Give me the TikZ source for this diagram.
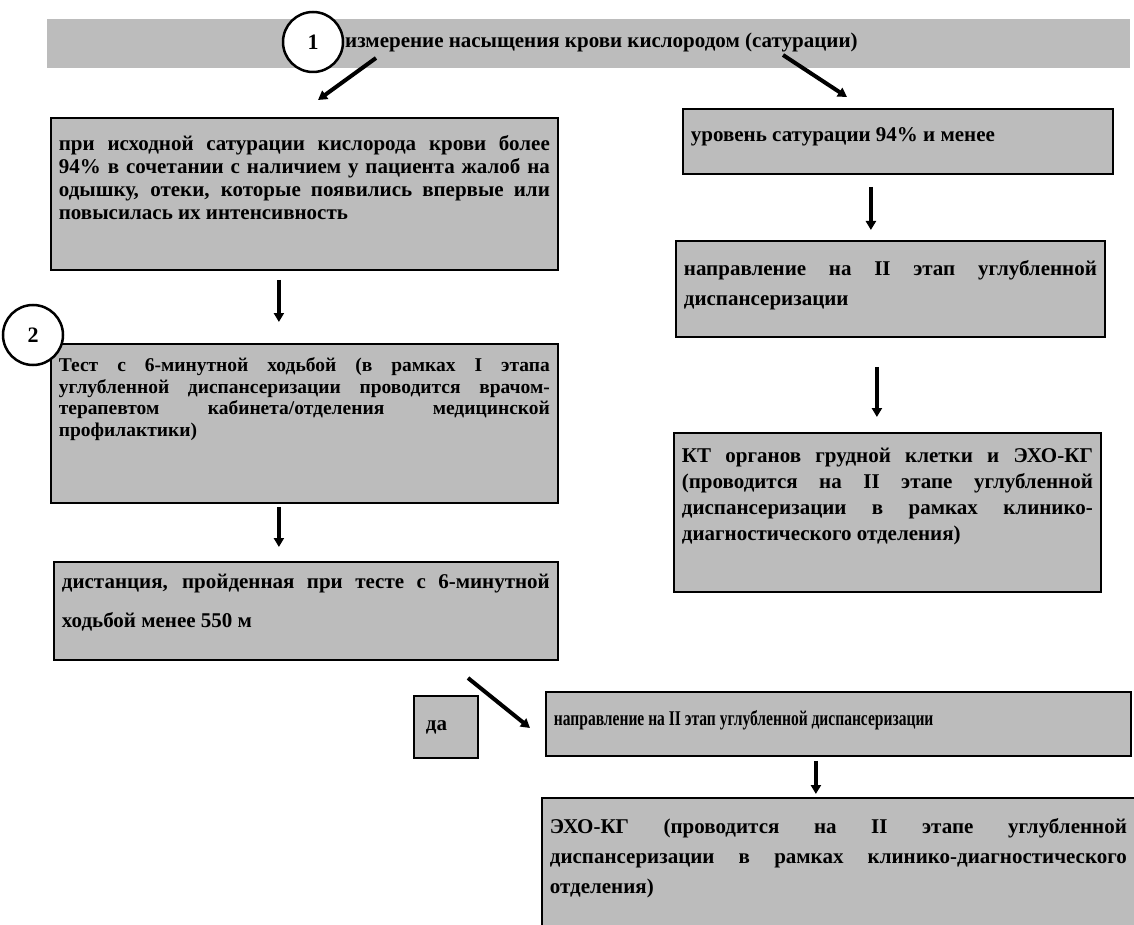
\documentclass[tikz,border=0pt]{standalone}
\usepackage{fontspec}
\setmainfont{Liberation Serif}
\usepackage{graphicx}
\usetikzlibrary{arrows.meta}
\definecolor{boxgray}{RGB}{188,188,188}
\newcommand{\jline}[1]{\hbox to\hsize{#1}}
\newcommand{\lline}[1]{\hbox to\hsize{#1\hfil}}
\newcommand{\boxtext}[5]{\parbox[c][#2][t]{#1}{\fontsize{#3}{#4}\selectfont\hbadness=10000 #5}}
\tikzset{
  flowbox/.style={draw=black, line width=1.8pt, fill=boxgray, anchor=north west, inner xsep=8pt, font=\bfseries},
  arr/.style={line width=4pt, -{Triangle[length=9pt,width=10pt]}},
  num/.style={circle, draw=black, line width=2.5pt, fill=white, minimum size=60pt, inner sep=0pt, font=\bfseries\fontsize{22}{24}\selectfont},
  band/.style={fill=boxgray, anchor=north west, inner sep=0pt, minimum width=1083pt, minimum height=49pt},
  titletext/.style={anchor=west, inner sep=0pt, font=\bfseries\fontsize{21}{24}\selectfont}
}
\begin{document}
\begin{tikzpicture}[x=1pt,y=-1pt]
\path[use as bounding box] (0,0) rectangle (1134,925);

\node[band] (band) at (47,19) {};
\node[titletext] (title) at (345,42) {измерение насыщения крови кислородом (сатурации)};
\node[num] (c1) at (313,42) {1};

\node[flowbox, inner ysep=18pt] (L1) at (50,117) {\boxtext{491pt}{116pt}{21}{23}{%
\jline{при исходной сатурации кислорода крови более}%
\jline{94\% в сочетании с наличием у пациента жалоб на}%
\jline{одышку, отеки, которые появились впервые или}%
\lline{повысилась их интенсивность}}};

\node[flowbox, inner ysep=14pt] (L2) at (50,343) {\boxtext{491pt}{131pt}{19.5}{21.5}{%
\jline{Тест с 6-минутной ходьбой (в рамках I этапа}%
\jline{углубленной диспансеризации проводится врачом-}%
\jline{терапевтом кабинета/отделения медицинской}%
\lline{профилактики)}}};
\node[num] (c2) at (33,335) {2};

\node[flowbox, inner ysep=12pt] (L3) at (53,561) {\boxtext{488pt}{74pt}{21}{39}{%
\jline{дистанция, пройденная при тесте с 6-минутной}%
\lline{ходьбой менее 550 м}}};

\node[flowbox, inner ysep=19pt] (R1) at (682,108) {\boxtext{414pt}{27pt}{21}{23}{%
\lline{уровень сатурации 94\% и менее}}};

\node[flowbox, inner ysep=20pt] (R2) at (675,240) {\boxtext{413pt}{56pt}{21}{30}{%
\jline{направление на II этап углубленной}%
\lline{диспансеризации}}};

\node[flowbox, inner ysep=15pt] (R3) at (673,432) {\boxtext{411pt}{129pt}{21}{26}{%
\jline{КТ органов грудной клетки и ЭХО-КГ}%
\jline{(проводится на II этапе углубленной}%
\jline{диспансеризации в рамках клинико-}%
\lline{диагностического отделения)}}};

\node[flowbox, inner xsep=12pt, inner ysep=25pt] (da) at (413,695) {\boxtext{40pt}{12pt}{21}{23}{\lline{да}}};

\node[flowbox, inner ysep=19pt] (N) at (545,691) {\boxtext{569pt}{26pt}{21}{23}{%
\lline{\scalebox{0.74}[1]{направление на II этап углубленной диспансеризации}}}};

\node[flowbox, inner ysep=21pt] (E) at (541,797) {\boxtext{577pt}{86pt}{21}{30}{%
\jline{ЭХО-КГ (проводится на II этапе углубленной}%
\jline{диспансеризации в рамках клинико-диагностического}%
\lline{отделения)}}};

\coordinate (t1s) at (376,58);
\coordinate (t1e) at (318,100);
\coordinate (t2s) at (783,55);
\coordinate (t2e) at (847,97);
\coordinate (ds) at (468,678);
\coordinate (de) at (530,728);

\draw[arr] (t1s) -- (t1e);
\draw[arr] (t2s) -- (t2e);
\draw[arr] (ds) -- (de);
\draw[arr, shorten <=9pt, shorten >=21pt] ([xshift=-25.5pt]L1.south) -- ([xshift=-25.5pt]L2.north);
\draw[arr, shorten <=3pt, shorten >=14pt] ([xshift=-25.5pt]L2.south) -- ([xshift=-27pt]L3.north);
\draw[arr, shorten <=12pt, shorten >=10pt] ([xshift=-27pt]R1.south) -- ([xshift=-19.5pt]R2.north);
\draw[arr, shorten <=29pt, shorten >=15pt] ([xshift=-13.5pt]R2.south) -- ([xshift=-10.5pt]R3.north);
\draw[arr, shorten <=4pt, shorten >=3pt] ([xshift=-22.5pt]N.south) -- ([xshift=-22.5pt]E.north);
\end{tikzpicture}
\end{document}
